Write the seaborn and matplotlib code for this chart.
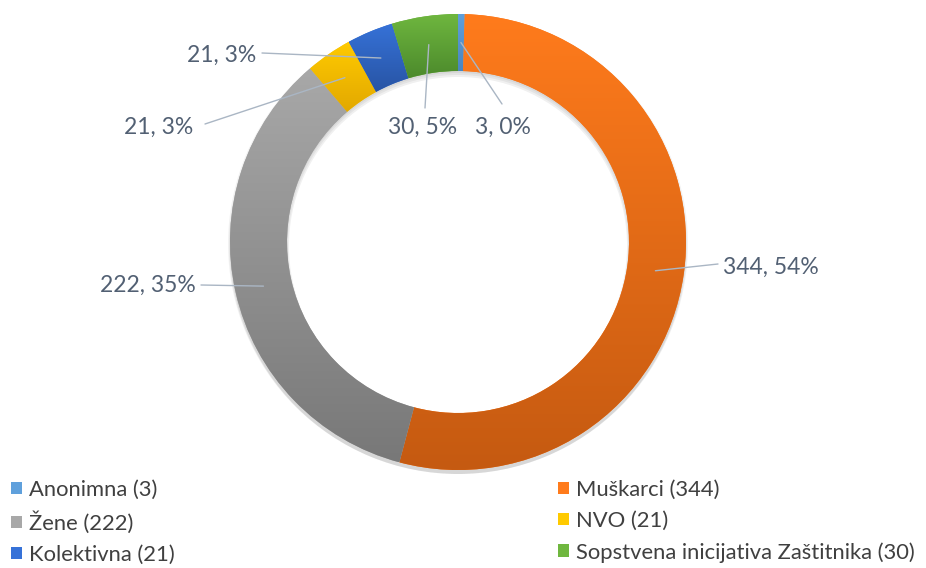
import numpy as np
import matplotlib.pyplot as plt
import matplotlib.colors as mcolors
import seaborn as sns
from matplotlib.patches import Patch

# data
categories = ['Anonimna', 'Muškarci', 'Žene', 'NVO', 'Kolektivna',
              'Sopstvena inicijativa Zaštitnika']
values = [3, 344, 222, 21, 21, 30]

# light (top) / dark (bottom) colour of each slice gradient
top_colors = ['#5fa0dc', '#ff7b1c', '#a8a8a8', '#ffca00', '#3672d8', '#6fb73f']
bottom_colors = ['#4a86c0', '#c55a11', '#787878', '#e2a800', '#2854a4', '#4c8a2c']

# label layout, in pixels from top-left: text x, text y, ha, leader end x, leader end y
label_layout = [
    (503, 127, 'center', 502, 104),
    (723, 267, 'left', 718, 264),
    (196, 285, 'right', 201, 285),
    (193, 127, 'right', 205, 124),
    (256, 55, 'right', 262, 53),
    (423, 127, 'center', 425, 108),
]

W, H = 926, 568
CX, CY, R, RW = 458, H - 242, 228, 57

sns.set_style('white')
plt.rcParams['font.family'] = ['Lato', 'DejaVu Sans']

fig = plt.figure(figsize=(W / 100, H / 100), dpi=100)
ax = fig.add_axes([0, 0, 1, 1])

# soft shadow under the ring
for k, a in enumerate([0.05, 0.05, 0.06]):
    ax.pie([sum(values)], colors=['black'], center=(CX, CY - 2 - k),
           radius=R + 2 - k, wedgeprops=dict(width=RW + 2, alpha=a, linewidth=0))

wedges, _ = ax.pie(values, colors=top_colors, startangle=90, counterclock=False,
                   center=(CX, CY), radius=R,
                   wedgeprops=dict(width=RW, linewidth=0))

# vertical gradient inside each slice
for w, c1, c2 in zip(wedges, top_colors, bottom_colors):
    ext = w.get_path().get_extents()
    cmap = mcolors.LinearSegmentedColormap.from_list('g', [c2, c1])
    grad = np.linspace(0, 1, 256).reshape(-1, 1)
    im = ax.imshow(grad, cmap=cmap, origin='lower', aspect='auto',
                   extent=(ext.x0, ext.x1, ext.y0, ext.y1), zorder=w.get_zorder() + 0.1)
    im.set_clip_path(w)

# data labels with leader lines
total = sum(values)
label_color = '#526073'
for w, v, (tx, ty, ha, lx, ly) in zip(wedges, values, label_layout):
    ang = np.deg2rad((w.theta1 + w.theta2) / 2)
    rm = R - RW / 2
    px, py = CX + rm * np.cos(ang), CY + rm * np.sin(ang)
    ax.plot([px, lx], [py, H - ly], color='#aab6c4', lw=1, zorder=5)
    pct = round(v / total * 100)
    ax.text(tx, H - ty, f'{v}, {pct}%', ha=ha, va='center', fontsize=16.5,
            color=label_color, zorder=6)

ax.set_xlim(0, W)
ax.set_ylim(0, H)
ax.set_aspect('equal')
ax.axis('off')

# legend in two columns
handles = [Patch(facecolor=c, edgecolor='none') for c in top_colors]
names = [f'{n} ({v})' for n, v in zip(categories, values)]
left_idx, right_idx = [0, 2, 4], [1, 3, 5]
for idx, x0 in [(left_idx, 0.012), (right_idx, 0.603)]:
    leg = fig.legend([handles[i] for i in idx], [names[i] for i in idx],
                     loc='upper left', bbox_to_anchor=(x0, 1 - 480 / H),
                     frameon=False, fontsize=15.8, labelspacing=0.5,
                     handlelength=0.5, handleheight=0.5, handletextpad=0.3,
                     borderaxespad=0, borderpad=0)
    for t in leg.get_texts():
        t.set_color('#404040')

fig.savefig('out.png', dpi=100)
